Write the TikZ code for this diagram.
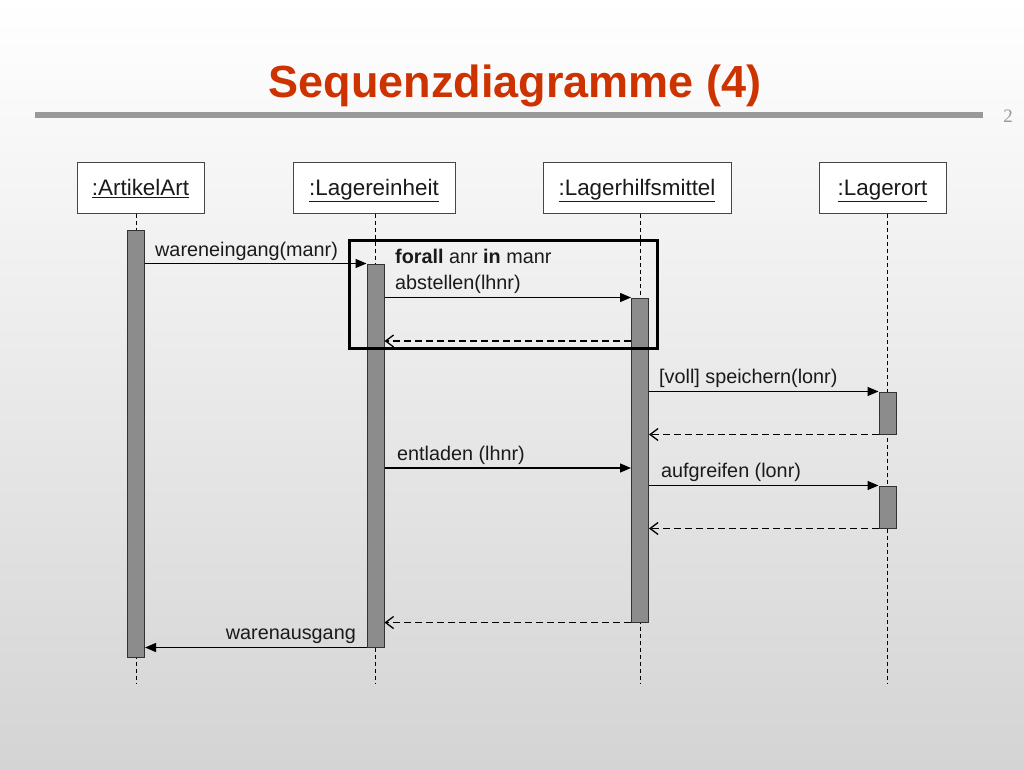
\documentclass[tikz,border=0pt]{standalone}
\usepackage{fontspec}
\setmainfont{Liberation Sans}
\newfontfamily\serifnum{Liberation Serif}
\usetikzlibrary{arrows.meta}
\definecolor{titlered}{RGB}{204,51,0}
\definecolor{rulegray}{RGB}{153,153,153}
\definecolor{bargray}{RGB}{140,140,140}
\definecolor{txt}{RGB}{26,26,26}
\definecolor{bgbottom}{RGB}{212,212,212}
\tikzset{
  head/.style={draw={rgb,255:red,70;green,70;blue,70}, fill=white, line width=1pt,
    minimum height=51pt, inner sep=0pt, text height=15.75pt, text depth=0pt,
    font=\fontsize{22.4pt}{26pt}\selectfont, text=txt},
  bar/.style={draw={rgb,255:red,50;green,50;blue,50}, fill=bargray, line width=1pt,
    minimum width=17pt, inner sep=0pt},
  life/.style={draw=black, line width=0.9pt, dash pattern=on 4pt off 3pt},
  msg/.style={draw=black, line width=1.3pt, -{Triangle[length=11pt,width=9pt]}},
  ret/.style={draw=black, line width=1.3pt, dash pattern=on 7pt off 4pt,
    -{Straight Barb[length=8pt,width=12pt,line width=1.3pt]}},
  lbl/.style={anchor=base west, inner sep=0pt, font=\fontsize{19.8pt}{23pt}\selectfont, text=txt},
  lblr/.style={anchor=base east, inner sep=0pt, font=\fontsize{19.8pt}{23pt}\selectfont, text=txt},
  frame/.style={draw=black, line width=3pt, inner sep=0pt}
}
\begin{document}
\begin{tikzpicture}[x=1pt,y=-1pt]
\useasboundingbox (0,0) rectangle (1024,768);
\shade[top color=white, bottom color=bgbottom] (0,0) rectangle (1024,768);
% title
\node[anchor=base, inner sep=0pt, text=titlered, font=\fontsize{45pt}{50pt}\selectfont\bfseries] (title) at (515,97) {Sequenzdiagramme (4)};
\draw[rulegray, line width=6pt] (35,115) -- (983,115);
\node[anchor=base, inner sep=0pt, text=rulegray, font=\serifnum\fontsize{19pt}{22pt}\selectfont] (pnum) at (1008,122) {2};
% headers
\node[head, minimum width=127pt] (A) at (140.5,187.5) {\underline{:ArtikelArt}};
\node[head, minimum width=162pt] (B) at (374,187.5) {\underline{:Lagereinheit}};
\node[head, minimum width=188pt] (C) at (637,187.5) {\underline{:Lagerhilfsmittel}};
\node[head, minimum width=127pt] (D) at (882.5,187.5) {\underline{:Lagerort}};
% lifeline ends
\coordinate (endy) at (0,683);
\coordinate (Ax) at (136,0);
\coordinate (Bx) at (375.5,0);
\coordinate (Cx) at (640,0);
\coordinate (Dx) at (887.5,0);
\draw[life] (Ax |- A.south) -- (Ax |- endy);
\draw[life] (Bx |- B.south) -- (Bx |- endy);
\draw[life] (Cx |- C.south) -- (Cx |- endy);
\draw[life] (Dx |- D.south) -- (Dx |- endy);
% activation bars
\node[bar, minimum height=427pt] (a1) at (136,443.5) {};
\node[bar, minimum height=383pt] (b1) at (375.5,455.5) {};
\node[bar, minimum height=324pt] (c1) at (640,460) {};
\node[bar, minimum height=42pt] (d1) at (887.5,413) {};
\node[bar, minimum height=42pt] (d2) at (887.5,507) {};
% loop frame
\node[frame, minimum width=308pt, minimum height=108pt] (loop) at (503,294) {};
% messages
\coordinate (r1) at (0,341);
\coordinate (e1) at (0,468);
\draw[msg] (a1.east |- b1.north) -- (b1.north west);
\node[lbl] (l1) at (155,256) {wareneingang(manr)};
\node[lbl] (l0) at (395,263) {\textbf{forall} anr \textbf{in} manr};
\draw[msg] (b1.east |- c1.north) -- (c1.north west);
\node[lbl] (l2) at (395,289) {abstellen(lhnr)};
\draw[ret] (c1.west |- r1) -- (b1.east |- r1);
\draw[msg] (c1.east |- d1.north) -- (d1.north west);
\node[lbl] (l3) at (659,383) {[voll] speichern(lonr)};
\draw[ret] (d1.south west) -- (c1.east |- d1.south);
\draw[msg] (b1.east |- e1) -- (c1.west |- e1);
\node[lbl] (l4) at (397,460) {entladen (lhnr)};
\draw[msg] (c1.east |- d2.north) -- (d2.north west);
\node[lbl] (l5) at (661,477) {aufgreifen (lonr)};
\draw[ret] (d2.south west) -- (c1.east |- d2.south);
\draw[ret] (c1.south west) -- (b1.east |- c1.south);
\draw[msg] (b1.south west) -- (a1.east |- b1.south);
\node[lblr] (l6) at (356,639) {warenausgang};
\end{tikzpicture}
\end{document}
